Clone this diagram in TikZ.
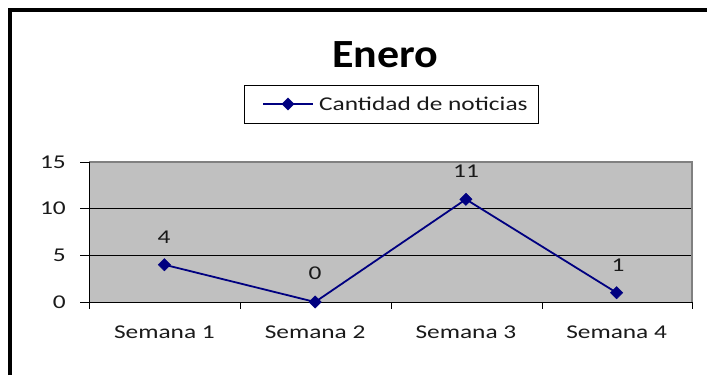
\documentclass[tikz,border=0pt]{standalone}
\usepackage{fontspec}
\setmainfont{Carlito}
\newfontfamily\lblfont{Carlito}[FakeStretch=1.3]
\newfontfamily\ttlfont{Carlito}[FakeStretch=1.1]
\usetikzlibrary{shapes.geometric}
\definecolor{plotgray}{HTML}{C0C0C0}
\definecolor{series}{HTML}{000080}
\definecolor{txt}{HTML}{1A1A1A}
\definecolor{borderg}{HTML}{808080}
\begin{document}
\begin{tikzpicture}[x=1pt,y=-1pt,
  lbl/.style={font=\lblfont\fontsize{19.5}{22}\selectfont, text=txt, inner sep=0pt},
  mk/.style={diamond, fill=series, draw=series, minimum size=12.5pt, inner sep=0pt},
  ser/.style={draw=series, line width=1.8pt},
  axisline/.style={draw=black, line width=1pt}]
\useasboundingbox (0,0) rectangle (707,375);
\fill[white] (0,0) rectangle (707,375);
% outer frame
\draw[line width=4pt] (10,375) -- (10,10) -- (707,10);
% plot area
\fill[plotgray] (89,162) rectangle (692,302);
\draw[axisline] (89,208) -- (692,208) (89,255) -- (692,255);
\draw[borderg, line width=1.5pt] (89,162) -- (692,162) -- (692,302);
\draw[axisline] (89,162) -- (89,302) -- (692,302);
\foreach \yy in {162,208,255,302} \draw[axisline] (80,\yy) -- (89,\yy);
\foreach \xx in {89,240,391,542,692} \draw[axisline] (\xx,302) -- (\xx,309);
% y labels
\node[lbl, anchor=east] (y15) at (66,162) {15};
\node[lbl, anchor=east] (y10) at (66,208) {10};
\node[lbl, anchor=east] (y5) at (66,255) {5};
\node[lbl, anchor=east] (y0) at (66,302) {0};
% x labels
\node[lbl, anchor=base] (s1) at (164.4,338) {Semana 1};
\node[lbl, anchor=base] (s2) at (315.1,338) {Semana 2};
\node[lbl, anchor=base] (s3) at (465.9,338) {Semana 3};
\node[lbl, anchor=base] (s4) at (616.6,338) {Semana 4};
% series
\coordinate (c1) at (164.4,264.7);
\coordinate (c2) at (315.1,302);
\coordinate (c3) at (465.9,199.3);
\coordinate (c4) at (616.6,292.7);
\draw[ser] (c1) -- (c2) -- (c3) -- (c4);
\node[mk] (m1) at (c1) {};
\node[mk] (m2) at (c2) {};
\node[mk] (m3) at (c3) {};
\node[mk] (m4) at (c4) {};
% data labels
\node[lbl] (d1) at (164,237) {4};
\node[lbl] (d2) at (315,273) {0};
\node[lbl] (d3) at (466,171) {11};
\node[lbl] (d4) at (618,265) {1};
% title
\node[font=\ttlfont\bfseries\fontsize{40}{44}\selectfont, inner sep=0pt] (title) at (385,55) {Enero};
% legend
\node[draw=black, line width=0.8pt, minimum width=294pt, minimum height=38pt, inner sep=0pt] (legend) at (391,104) {};
\coordinate (la) at (263,104);
\coordinate (lb) at (313,104);
\draw[ser] (la) -- (lb);
\node[mk] (lm) at (288,104) {};
\node[lbl, anchor=west] (ltext) at (319,104) {Cantidad de noticias};
\end{tikzpicture}
\end{document}
